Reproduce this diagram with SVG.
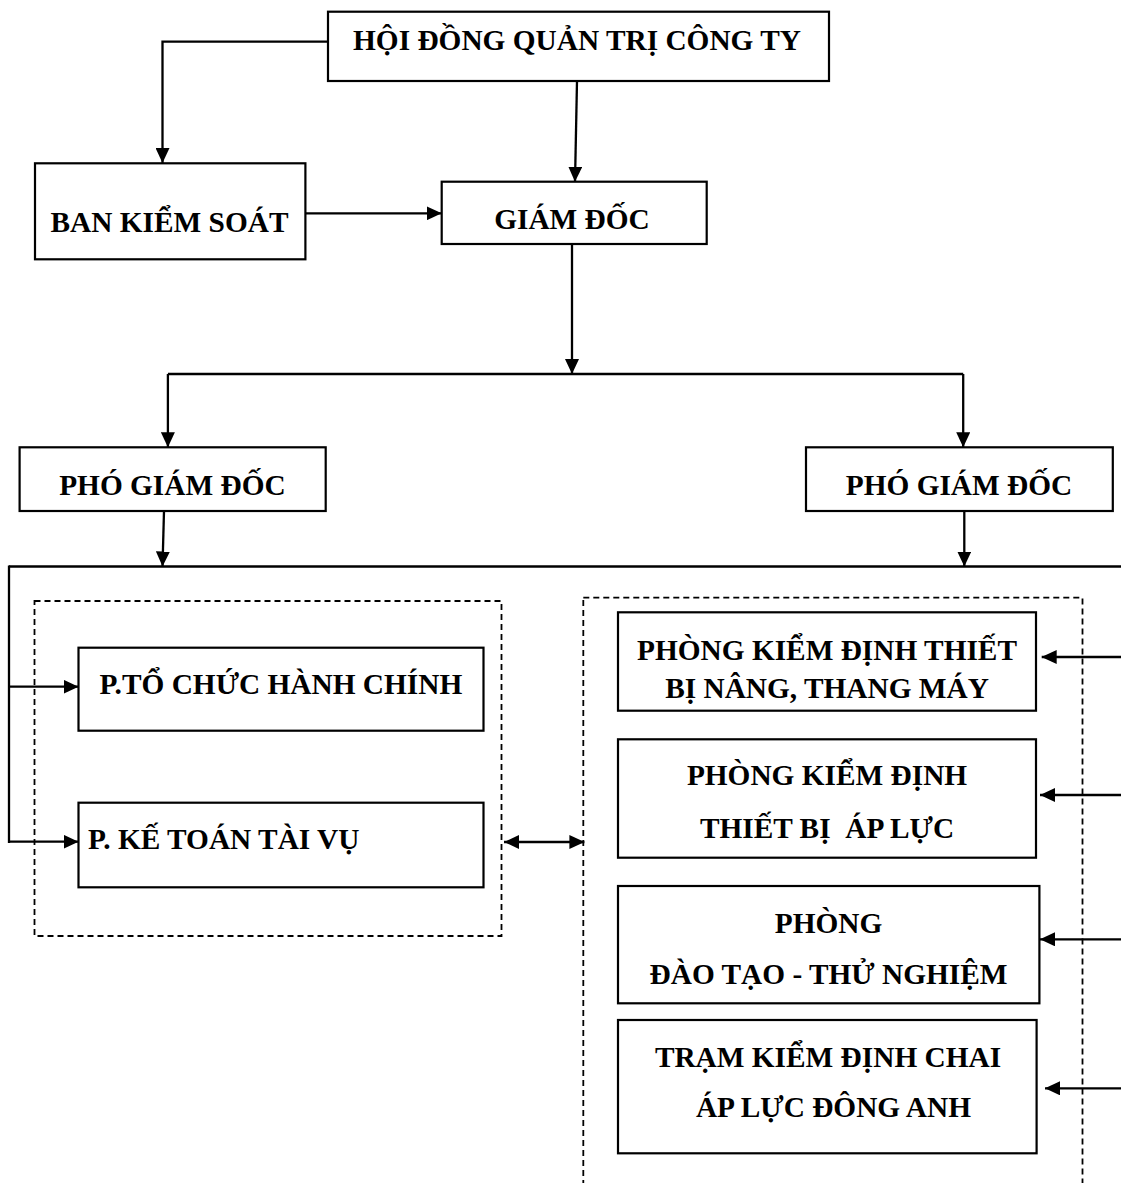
<svg xmlns="http://www.w3.org/2000/svg" width="1121" height="1183" viewBox="0 0 1121 1183">
<defs>
<marker id="ah" markerUnits="userSpaceOnUse" markerWidth="15" markerHeight="14" refX="15" refY="7" orient="auto-start-reverse">
<path d="M0,0 L15,7 L0,14 Z" fill="#000"/>
</marker>
</defs>
<style>
.box{fill:#fff;stroke:#000;stroke-width:2.2}
.dash{fill:none;stroke:#000;stroke-width:1.8;stroke-dasharray:6 4}
.ln{fill:none;stroke:#000;stroke-width:2.3}
.arr{fill:none;stroke:#000;stroke-width:2.3;marker-end:url(#ah)}
.t{font-family:"Liberation Serif","Times New Roman",serif;font-weight:bold;font-size:29.33px;fill:#000;text-anchor:middle}
.tl{text-anchor:start}
</style>
<rect width="1121" height="1183" fill="#fff"/>
<g id="group-left">
<rect class="dash" x="34.5" y="601" width="467" height="335"/>
</g>
<g id="group-right">
<rect class="dash" x="583.3" y="597.7" width="499.2" height="620"/>
</g>
<g id="connectors">
<polyline class="arr" points="328,41.7 162.5,41.7 162.5,163"/>
<line class="arr" x1="577" y1="81" x2="575" y2="181.7"/>
<line class="arr" x1="305.4" y1="213.3" x2="441.7" y2="213.3"/>
<line class="arr" x1="572" y1="244" x2="572" y2="374"/>
<line class="ln" x1="167.9" y1="374" x2="963.2" y2="374"/>
<line class="arr" x1="167.9" y1="374" x2="167.9" y2="447.3"/>
<line class="arr" x1="963.2" y1="374" x2="963.2" y2="447.3"/>
<line class="arr" x1="164" y1="511" x2="162.5" y2="566.5"/>
<line class="arr" x1="964.3" y1="511" x2="964.3" y2="566.5"/>
<line class="ln" x1="9" y1="566.5" x2="1121" y2="566.5"/>
<line class="ln" x1="9" y1="565.5" x2="9" y2="843"/>
<line class="arr" x1="9" y1="686.7" x2="78.5" y2="686.7"/>
<line class="arr" x1="9" y1="841.7" x2="78.5" y2="841.7"/>
<line class="arr" x1="504" y1="842" x2="584.4" y2="842" style="marker-start:url(#ah)"/>
<line class="arr" x1="1121" y1="657" x2="1041.7" y2="657"/>
<line class="arr" x1="1121" y1="795" x2="1040" y2="795"/>
<line class="arr" x1="1121" y1="939.3" x2="1040" y2="939.3"/>
<line class="arr" x1="1121" y1="1088.3" x2="1045" y2="1088.3"/>
</g>
<g id="hdqt">
<rect class="box" x="328" y="11.7" width="501" height="69.3"/>
<text class="t" x="577" y="50">HỘI ĐỒNG QUẢN TRỊ CÔNG TY</text>
</g>
<g id="ban-kiem-soat">
<rect class="box" x="35" y="163.3" width="270.4" height="96"/>
<text class="t" x="169.5" y="231.7">BAN KIỂM SOÁT</text>
</g>
<g id="giam-doc">
<rect class="box" x="441.7" y="181.7" width="265" height="62.3"/>
<text class="t" x="572" y="229">GIÁM ĐỐC</text>
</g>
<g id="pho-giam-doc-1">
<rect class="box" x="19.6" y="447.3" width="306.1" height="63.7"/>
<text class="t" x="172.4" y="495">PHÓ GIÁM ĐỐC</text>
</g>
<g id="pho-giam-doc-2">
<rect class="box" x="806" y="447.3" width="306.8" height="63.7"/>
<text class="t" x="959" y="495">PHÓ GIÁM ĐỐC</text>
</g>
<g id="p-to-chuc">
<rect class="box" x="78.5" y="647.7" width="405" height="83"/>
<text class="t" x="280.8" y="694.3">P.TỔ CHỨC HÀNH CHÍNH</text>
</g>
<g id="p-ke-toan">
<rect class="box" x="78.5" y="802.7" width="405" height="84.6"/>
<text class="t tl" x="88" y="849.3">P. KẾ TOÁN TÀI VỤ</text>
</g>
<g id="phong-nang">
<rect class="box" x="618" y="612.3" width="418" height="98.4"/>
<text class="t" x="827" y="660">PHÒNG KIỂM ĐỊNH THIẾT</text>
<text class="t" x="827" y="698.3">BỊ NÂNG, THANG MÁY</text>
</g>
<g id="phong-ap-luc">
<rect class="box" x="618" y="739.3" width="418" height="118.4"/>
<text class="t" x="827" y="785">PHÒNG KIỂM ĐỊNH</text>
<text class="t" x="827" y="837.7" xml:space="preserve">THIẾT BỊ  ÁP LỰC</text>
</g>
<g id="phong-dao-tao">
<rect class="box" x="618" y="886" width="421.4" height="117.3"/>
<text class="t" x="828.5" y="933.3">PHÒNG</text>
<text class="t" x="828.5" y="984.3">ĐÀO TẠO - THỬ NGHIỆM</text>
</g>
<g id="tram-chai">
<rect class="box" x="618" y="1020" width="418.6" height="133.3"/>
<text class="t" x="828" y="1066.7">TRẠM KIỂM ĐỊNH CHAI</text>
<text class="t" x="833.5" y="1116.7">ÁP LỰC ĐÔNG ANH</text>
</g>
</svg>
